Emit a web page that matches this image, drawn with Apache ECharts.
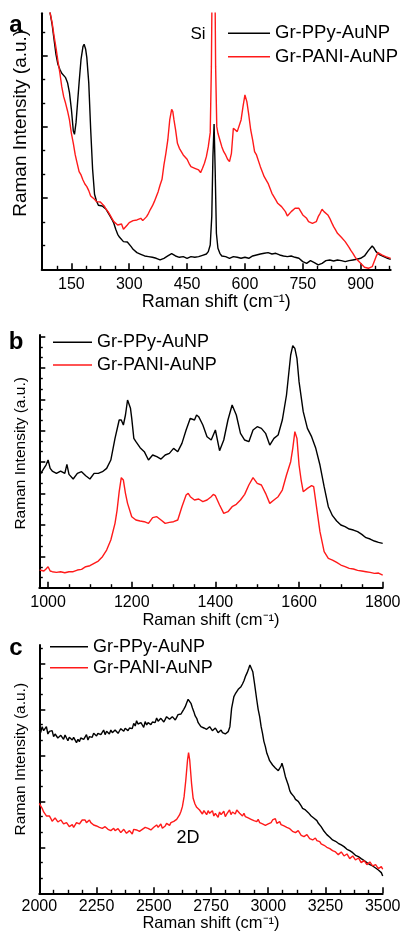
<!DOCTYPE html>
<html>
<head>
<meta charset="utf-8">
<script src="https://cdn.jsdelivr.net/npm/echarts@6/dist/echarts.min.js"></script>
<style>
  html, body { margin: 0; padding: 0; background: #fff; }
  #chart { width: 403px; height: 935px; }
</style>
</head>
<body>
<div id="chart"></div>
<script>
// legend names
const names = ["Gr-PPy-AuNP", "Gr-PANI-AuNP"];

// panel a (Raman shift cm-1 / intensity a.u.)
const aPpyX = [73,85,95,100,105,110,115,120,125,130,
  135,140,145,150,155,158,162,166,170,175,
  180,183,187,190,195,200,205,210,215,220,
  225,230,235,240,245,250,255,260,265,270,
  275,280,285,290,295,300,305,310,315,320,
  330,340,350,360,370,380,390,400,410,420,
  430,440,450,460,470,480,490,500,505,510,
  514,517,520,523,526,530,535,540,550,560,
  570,580,590,600,610,620,630,640,650,660,
  670,680,690,700,710,720,730,740,750,760,
  770,780,790,800,810,820,830,840,850,860,
  870,880,890,900,910,920,930,935,940,950,
  960,970,978];
const aPpyY = [1000,860,768,735,690,645,615,600,588,582,
  575,560,530,480,415,405,440,500,560,630,
  668,675,660,635,560,420,300,225,205,192,
  195,190,185,180,170,160,150,138,120,105,
  96,90,83,80,82,76,68,60,55,50,
  45,40,38,36,33,28,33,40,47,40,
  36,38,33,38,36,38,42,46,53,73,
  158,338,436,288,108,63,48,40,38,33,
  38,36,33,36,33,40,43,46,48,50,
  46,48,43,40,38,40,36,33,23,18,
  26,20,13,18,26,28,25,28,26,23,
  26,28,30,33,40,56,70,63,53,43,
  38,33,30];
const aPaniX = [73,85,95,100,105,110,115,120,125,130,
  135,140,145,150,155,160,165,170,175,180,
  185,190,195,200,205,210,215,220,225,230,
  235,240,245,250,255,260,265,270,275,280,
  285,290,295,300,305,310,315,320,325,330,
  335,340,345,350,355,360,365,370,375,380,
  385,390,395,400,405,410,413,416,420,425,
  430,435,440,445,450,455,460,465,470,475,
  480,485,490,495,500,505,510,513,516,520,
  524,527,530,535,540,545,550,555,560,565,
  570,575,580,585,590,595,600,605,610,615,
  620,625,630,635,640,645,650,655,660,665,
  670,675,680,685,690,695,700,705,710,715,
  720,725,730,735,740,745,750,755,760,765,
  770,775,780,785,790,795,800,805,810,815,
  820,825,830,835,840,845,850,855,860,865,
  870,875,880,885,890,895,900,905,910,915,
  920,925,930,935,940,945,950,955,960,965,
  970,978];
const aPaniY = [1000,870,768,740,700,665,625,590,548,518,
  498,475,448,408,378,343,318,293,283,268,
  256,248,236,220,216,210,203,206,202,196,
  190,180,173,163,153,143,148,133,128,136,
  120,126,133,140,138,146,143,148,143,153,
  146,140,158,168,180,190,203,218,233,253,
  270,313,348,388,448,480,473,448,420,378,
  363,353,343,348,330,318,308,313,303,308,
  298,290,303,318,338,368,410,608,1000,1200,
  608,428,408,388,368,353,343,330,323,348,
  423,428,413,418,448,488,523,503,463,418,
  388,353,343,338,308,293,278,273,258,243,
  228,218,208,198,193,188,183,173,160,163,
  173,178,183,180,183,173,163,158,153,143,
  140,138,136,143,158,168,180,173,178,163,
  153,140,128,118,108,103,96,90,83,78,
  66,56,48,38,30,26,18,13,6,8,
  3,0,8,23,38,50,48,43,46,38,
  36,33];
const aXLabels = [150, 300, 450, 600, 750, 900];
const aXMinor = [112.5,187.5,225,262.5,337.5,375,412.5,487.5,525,562.5,637.5,675,712.5,787.5,825,862.5,937.5,975];

// panel b
const bPpyX = [980,990,995,1000,1005,1010,1020,1030,1040,1045,
  1050,1060,1070,1080,1090,1100,1110,1120,1130,1140,
  1150,1160,1170,1175,1180,1185,1190,1193,1197,1200,
  1205,1210,1220,1230,1240,1250,1260,1270,1280,1290,
  1300,1310,1320,1330,1340,1350,1355,1360,1370,1380,
  1390,1400,1410,1420,1430,1440,1450,1460,1470,1480,
  1490,1500,1510,1520,1530,1540,1550,1560,1570,1580,
  1585,1590,1595,1600,1610,1620,1630,1640,1650,1660,
  1670,1680,1690,1700,1710,1720,1730,1740,1750,1760,
  1770,1780,1790,1800];
const bPpyY = [338,358,368,383,358,350,343,350,343,370,
  340,326,343,348,336,326,343,343,348,358,
  383,448,503,503,488,518,563,568,538,508,
  448,438,420,408,383,398,393,386,398,403,
  418,408,433,473,508,503,518,513,488,453,
  443,473,411,443,503,548,518,463,443,438,
  473,483,478,463,428,448,458,503,578,698,
  726,718,688,618,528,478,453,418,368,303,
  243,216,200,188,183,176,173,168,160,150,
  146,140,136,133];
const bPaniX = [980,990,995,1000,1005,1010,1020,1030,1040,1050,
  1060,1070,1080,1090,1100,1110,1120,1130,1140,1150,
  1160,1165,1170,1175,1180,1185,1190,1200,1210,1220,
  1230,1240,1250,1260,1270,1280,1290,1300,1310,1320,
  1330,1335,1340,1350,1360,1370,1380,1390,1395,1400,
  1410,1420,1430,1440,1450,1460,1470,1480,1490,1500,
  1510,1520,1530,1540,1550,1560,1570,1580,1585,1590,
  1595,1600,1605,1610,1620,1630,1635,1640,1650,1660,
  1670,1680,1690,1700,1710,1720,1730,1740,1750,1760,
  1770,1780,1790,1800];
const bPaniY = [53,50,56,63,50,48,46,48,45,48,
  48,53,55,63,66,73,80,93,113,143,
  193,233,288,330,323,283,253,213,203,200,
  198,193,210,213,203,193,196,198,203,243,
  278,283,273,263,266,258,263,273,280,276,
  248,223,228,243,250,263,280,308,330,313,
  308,283,253,263,273,293,338,378,418,468,
  448,368,323,288,298,306,303,258,168,108,
  88,83,76,68,63,58,56,52,50,48,
  46,43,44,38];
const bXLabels = [1000, 1200, 1400, 1600, 1800];
const bXMinor = [1050,1100,1150,1250,1300,1350,1450,1500,1550,1650,1700,1750];

// panel c
const cPpyX = [2000,2006,2012.5,2019,2025,2031,2037.5,2044,2050,2056,
  2062.5,2069,2075,2081,2087.5,2094,2100,2106,2112.5,2119,
  2125,2131,2137.5,2144,2150,2156,2162.5,2169,2175,2181,
  2187.5,2194,2200,2206,2212.5,2219,2225,2231,2237.5,2244,
  2250,2256,2262.5,2269,2275,2281,2287.5,2294,2300,2306,
  2312.5,2319,2325,2331,2337.5,2344,2350,2356,2362.5,2369,
  2375,2381,2387.5,2394,2400,2406,2412.5,2419,2425,2431,
  2437.5,2444,2450,2456,2462.5,2469,2475,2481,2487.5,2494,
  2500,2506,2512.5,2519,2525,2531,2537.5,2544,2550,2556,
  2562.5,2569,2575,2581,2587.5,2594,2600,2606,2612.5,2619,
  2625,2631,2637.5,2644,2650,2656,2662.5,2669,2675,2681,
  2687.5,2694,2700,2706,2712.5,2719,2725,2731,2737.5,2744,
  2750,2756,2762.5,2769,2775,2781,2787.5,2794,2800,2806,
  2812.5,2819,2825,2832.5,2840,2850,2856,2862.5,2869,2875,
  2881,2887.5,2894,2900,2908,2915,2920,2925,2932.5,2940,
  2950,2956,2962.5,2969,2975,2981,2987.5,2994,3000,3006,
  3012.5,3019,3025,3031,3037.5,3044,3050,3056,3060,3067.5,
  3075,3081,3087.5,3094,3100,3106,3112.5,3119,3125,3131,
  3137.5,3144,3150,3156,3162.5,3169,3175,3181,3187.5,3194,
  3200,3206,3212.5,3219,3225,3231,3237.5,3244,3250,3256,
  3262.5,3269,3275,3281,3287.5,3294,3300,3306,3312.5,3319,
  3325,3331,3337.5,3344,3350,3356,3362.5,3369,3375,3381,
  3387.5,3394,3400,3406,3412.5,3419,3425,3431,3437.5,3444,
  3450,3456,3462.5,3469,3475,3481,3487.5,3494,3500];
const cPpyY = [490,482,500,488,492,500,478,486,480,488,
  470,478,472,466,462,474,470,462,475,466,
  458,468,470,460,468,474,452,462,455,466,
  472,462,468,476,460,470,475,468,480,474,
  472,480,486,476,482,490,476,486,484,478,
  490,482,480,490,488,480,487,494,496,486,
  495,500,488,496,500,494,510,502,518,508,
  502,512,505,498,515,505,512,518,506,514,
  520,512,526,516,515,525,522,514,522,530,
  532,522,520,530,525,520,528,536,540,538,
  545,552,560,572,582,578,570,556,545,532,
  525,512,510,500,505,496,500,492,492,500,
  498,488,490,496,490,482,484,490,482,488,
  478,484,485,500,555,590,598,605,612,612,
  620,628,638,650,662,675,685,690,665,630,
  580,552,530,500,480,456,440,420,410,398,
  392,385,380,376,372,368,372,382,390,372,
  350,338,325,308,300,296,290,282,285,276,
  270,262,255,258,250,244,242,236,232,228,
  225,220,218,210,208,200,195,186,180,176,
  172,168,165,160,160,156,155,150,150,145,
  148,140,138,132,130,128,125,122,120,114,
  112,110,108,104,100,98,95,92,90,86,
  85,82,80,76,75,70,68,62,52];
const cPaniX = [2000,2006,2012.5,2019,2025,2031,2037.5,2044,2050,2056,
  2062.5,2069,2075,2081,2087.5,2094,2100,2106,2112.5,2119,
  2125,2131,2137.5,2144,2150,2156,2162.5,2169,2175,2181,
  2187.5,2194,2200,2206,2212.5,2219,2225,2231,2237.5,2244,
  2250,2256,2262.5,2269,2275,2281,2287.5,2294,2300,2306,
  2312.5,2319,2325,2331,2337.5,2344,2350,2356,2362.5,2369,
  2375,2381,2387.5,2394,2400,2406,2412.5,2419,2425,2431,
  2437.5,2444,2450,2456,2462.5,2469,2475,2481,2487.5,2494,
  2500,2506,2512.5,2519,2525,2531,2537.5,2544,2550,2556,
  2562.5,2569,2575,2581,2587.5,2594,2600,2606,2612.5,2619,
  2625,2632.5,2640,2647.5,2652,2657,2665,2672,2680,2687.5,
  2700,2706,2712.5,2719,2725,2731,2737.5,2744,2750,2756,
  2762.5,2769,2775,2781,2787.5,2794,2800,2806,2812.5,2819,
  2825,2831,2837.5,2844,2850,2856,2862.5,2869,2875,2881,
  2887.5,2894,2900,2906,2912.5,2919,2925,2931,2937.5,2944,
  2950,2956,2962.5,2969,2975,2981,2987.5,2994,3000,3006,
  3012.5,3019,3025,3031,3037.5,3044,3050,3056,3062.5,3069,
  3075,3081,3087.5,3094,3100,3106,3112.5,3119,3125,3131,
  3137.5,3144,3150,3156,3162.5,3169,3175,3181,3187.5,3194,
  3200,3206,3212.5,3219,3225,3231,3237.5,3244,3250,3256,
  3262.5,3269,3275,3281,3287.5,3294,3300,3306,3312.5,3319,
  3325,3331,3337.5,3344,3350,3356,3362.5,3369,3375,3381,
  3387.5,3394,3400,3406,3412.5,3419,3425,3431,3437.5,3444,
  3450,3456,3462.5,3469,3475,3481,3487.5,3494,3500];
const cPaniY = [270,262,255,244,240,232,228,232,225,216,
  218,226,222,214,212,220,215,208,205,212,
  208,200,200,206,198,204,212,218,208,214,
  220,226,220,212,214,220,212,206,205,210,
  202,196,198,204,195,190,200,196,192,198,
  188,194,195,188,186,194,190,182,184,192,
  187,180,180,188,184,178,192,186,190,196,
  186,180,192,186,198,192,195,200,190,196,
  198,192,205,198,200,208,195,200,202,210,
  210,204,212,218,216,222,222,228,235,246,
  260,290,340,400,422,400,330,285,268,258,
  250,244,238,248,242,236,248,240,240,248,
  232,240,235,228,244,236,238,246,230,238,
  242,250,236,244,245,238,250,256,240,236,
  232,240,230,236,226,220,222,228,218,214,
  215,222,212,206,208,214,204,200,208,214,
  212,220,218,224,210,216,215,206,210,202,
  205,198,200,194,195,186,188,182,180,188,
  182,174,178,170,170,176,172,164,166,160,
  162,166,158,152,155,148,150,144,145,138,
  140,134,135,128,130,124,125,116,118,124,
  120,112,112,118,115,104,108,112,108,100,
  100,106,102,92,94,98,95,86,88,94,
  90,82,80,86,82,74,76,80,72];
const cXLabels = [2000, 2250, 2500, 2750, 3000, 3250, 3500];
const cXMinor = [2062.5,2125,2187.5,2312.5,2375,2437.5,2562.5,2625,2687.5,2812.5,2875,2937.5,3062.5,3125,3187.5,3312.5,3375,3437.5];

// y ticks (no labels), in the a.u. of each panel
const aYMajor = [213.75, 427.5, 641.25];
const aYMinor = [71.25, 142.5, 285, 356.25, 498.75, 570, 712.5];
const bYMajor = [94.2, 188.4, 282.6, 376.8, 471, 565.2, 659.4, 753.6];
const bYMinor = [31.4, 62.8, 125.6, 157, 219.8, 251.2, 314, 345.4, 408.2, 439.6, 502.4, 533.8, 596.6, 628, 690.8, 722.2];
const cYMajor = [138, 276, 414, 552, 690];
const cYMinor = [46, 92, 184, 230, 322, 368, 460, 506, 598, 644, 736];

const FONT = "'Liberation Sans', Arial, Helvetica, sans-serif";
const BLACK = "#000000";
const RED = "#ff1a1a";

function pairs(xs, ys) {
  return xs.map((x, i) => [x, ys[i]]);
}

const panels = [
  { grid: { left: 41.7, top: 13.3, width: 349, height: 256 }, xmin: 73, xmax: 978, ymax: 768,
    labels: aXLabels, minor: aXMinor, yMajor: aYMajor, yMinor: aYMinor,
    labelSize: 16, labelMargin: 7, nameSize: 18, nameGap: 24, yNameSize: 19, yNameGap: 11, yNameShift: 36,
    ppy: pairs(aPpyX, aPpyY), pani: pairs(aPaniX, aPaniY) },
  { grid: { left: 39.3, top: 335, width: 343.4, height: 252.7 }, xmin: 979, xmax: 1800, ymax: 758,
    labels: bXLabels, minor: bXMinor, yMajor: bYMajor, yMinor: bYMinor,
    labelSize: 16, labelMargin: 7, nameSize: 16.5, nameGap: 24, yNameSize: 15.5, yNameGap: 11, yNameShift: 16,
    ppy: pairs(bPpyX, bPpyY), pani: pairs(bPaniX, bPaniY) },
  { grid: { left: 39.3, top: 645, width: 343.4, height: 248.3 }, xmin: 2000, xmax: 3500, ymax: 745,
    labels: cXLabels, minor: cXMinor, yMajor: cYMajor, yMinor: cYMinor,
    labelSize: 16, labelMargin: 5, nameSize: 16.5, nameGap: 21, yNameSize: 15.5, yNameGap: 11, yNameShift: 20,
    ppy: pairs(cPpyX, cPpyY), pani: pairs(cPaniX, cPaniY) }
];

const grid = [], xAxis = [], yAxis = [], series = [];
panels.forEach((p, i) => {
  grid.push(Object.assign({ containLabel: false, outerBoundsMode: 'none' }, p.grid));
  xAxis.push({
    type: 'value', gridIndex: i, min: p.xmin, max: p.xmax, position: 'bottom',
    axisLine: { lineStyle: { color: BLACK, width: 2 } },
    axisTick: { inside: true, length: 6, lineStyle: { color: BLACK, width: 1.6 }, customValues: p.labels },
    axisLabel: { customValues: p.labels, color: BLACK, fontSize: p.labelSize, fontFamily: FONT,
                 margin: p.labelMargin, formatter: v => String(v) },
    splitLine: { show: false },
    name: 'Raman shift (cm\u207B\u00B9)', nameLocation: 'middle', nameGap: p.nameGap,
    nameTextStyle: { color: BLACK, fontSize: p.nameSize, fontFamily: FONT }
  });
  xAxis.push({
    type: 'value', gridIndex: i, min: p.xmin, max: p.xmax, position: 'bottom',
    axisLine: { show: false },
    axisTick: { inside: true, length: 3.5, lineStyle: { color: BLACK, width: 1.4 }, customValues: p.minor },
    axisLabel: { show: false }, splitLine: { show: false }
  });
  yAxis.push({
    type: 'value', gridIndex: i, min: 0, max: p.ymax, position: 'left',
    axisLine: { show: true, lineStyle: { color: BLACK, width: 2 } },
    axisTick: { show: true, inside: true, length: 6, lineStyle: { color: BLACK, width: 1.6 }, customValues: p.yMajor },
    axisLabel: { show: false }, splitLine: { show: false },
    name: 'Raman Intensity (a.u.)', nameLocation: 'middle', nameGap: p.yNameGap,
    nameTextStyle: { color: BLACK, fontSize: p.yNameSize, fontFamily: FONT, padding: [0, 0, 0, p.yNameShift] }
  });
  yAxis.push({
    type: 'value', gridIndex: i, min: 0, max: p.ymax, position: 'left',
    axisLine: { show: false },
    axisTick: { show: true, inside: true, length: 3.5, lineStyle: { color: BLACK, width: 1.4 }, customValues: p.yMinor },
    axisLabel: { show: false }, splitLine: { show: false }
  });
  series.push({
    type: 'line', name: names[0], xAxisIndex: 2 * i, yAxisIndex: 2 * i, data: p.ppy,
    showSymbol: false, symbol: 'none', clip: true,
    lineStyle: { color: BLACK, width: 1.4 }, itemStyle: { color: BLACK }
  });
  series.push({
    type: 'line', name: names[1], xAxisIndex: 2 * i, yAxisIndex: 2 * i, data: p.pani,
    showSymbol: false, symbol: 'none', clip: true,
    lineStyle: { color: RED, width: 1.4 }, itemStyle: { color: RED }
  });
});

function legendAt(left, top, w, size, lh, gap) {
  return {
    data: names, orient: 'vertical', left: left, top: top, padding: 0,
    itemWidth: w, itemHeight: 1.6, itemGap: gap, icon: 'rect', selectedMode: false,
    textStyle: { color: BLACK, fontSize: size, lineHeight: lh, fontFamily: FONT }
  };
}

function label(text, x, y, size, bold) {
  return {
    type: 'text', x: x, y: y, silent: true,
    style: { text: text, fill: BLACK, fontSize: size, fontWeight: bold ? 'bold' : 'normal',
             fontFamily: FONT, align: 'center', verticalAlign: 'middle' }
  };
}

const chart = echarts.init(document.getElementById('chart'), null, { renderer: 'canvas' });
chart.setOption({
  animation: false,
  backgroundColor: '#ffffff',
  grid: grid, xAxis: xAxis, yAxis: yAxis, series: series,
  legend: [
    legendAt(228, 23.3, 42, 18.5, 20, 3.4),
    legendAt(53, 332.3, 39, 18, 20, 2.7),
    legendAt(50, 636.7, 38, 18, 20, 1)
  ],
  graphic: [
    label('a', 16, 25, 24, true),
    label('b', 16, 342, 24, true),
    label('c', 16, 648, 24, true),
    label('Si', 198, 34, 17, false),
    label('2D', 188, 838, 18, false)
  ]
});
</script>
</body>
</html>
